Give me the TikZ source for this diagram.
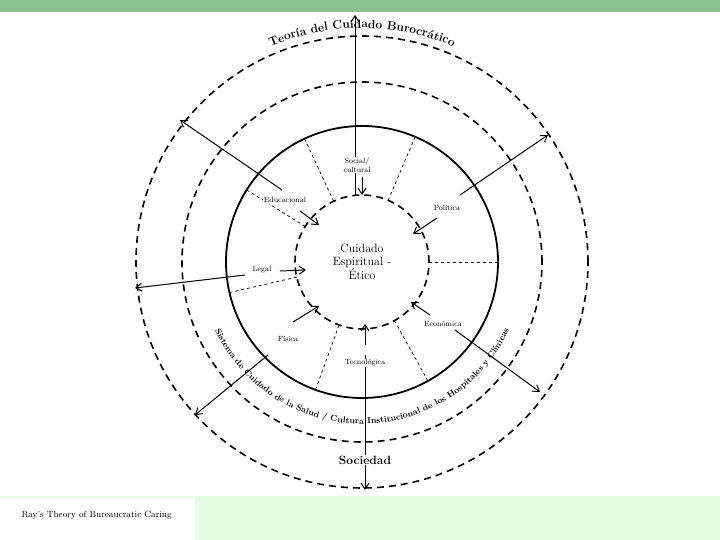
\documentclass[tikz,border=0pt]{standalone}
\usetikzlibrary{decorations.text,arrows.meta,calc}
\begin{document}
\begin{tikzpicture}[x=1pt,y=1pt,
  lbl/.style={font=\fontsize{7.5}{8.5}\selectfont,inner sep=1pt,fill=white},
  ray/.style={line width=1pt,-{Straight Barb[length=6pt,width=8pt]}},
  spoke/.style={dashed,line width=0.7pt},
  dcirc/.style={line width=1.6pt,dash pattern=on 7pt off 5pt}]
\useasboundingbox (0,0) rectangle (720,540);
\fill[white] (0,0) rectangle (720,540);
\fill[green!45!black!45!white] (0,528) rectangle (720,540);
\fill[green!10!white] (0,0) rectangle (720,44);
\fill[white] (0,0) rectangle (195,42);
\node[font=\fontsize{9}{10}\selectfont,anchor=west] (foot) at (18,25) {Ray's Theory of Bureaucratic Caring};
\coordinate (c) at (362,278);
\draw[dcirc] (c) circle (67);
\draw[line width=1.8pt] (c) circle (136);
\draw[dcirc] (c) circle (180);
\draw[dcirc] (c) circle (226);
\foreach \a in {115,67,148,0,193,250,299}
  \draw[spoke] ($(c)+(\a:67)$) -- ($(c)+(\a:136)$);
% outward rays
\coordinate (o1) at (355,525); \coordinate (s1) at (355,345);
\coordinate (o2) at (180,420); \coordinate (s2) at (282,350);
\coordinate (o3) at (548,405); \coordinate (s3) at (460,345);
\coordinate (o4) at (135,252); \coordinate (s4) at (245,265);
\coordinate (o5) at (195,125); \coordinate (s5) at (268,185);
\coordinate (o6) at (540,148); \coordinate (s6) at (455,210);
\coordinate (o7) at (365,50); \coordinate (s7) at (365,185);
\foreach \i in {1,...,7} \draw[ray] (s\i) -- (o\i);
% inward arrows
\draw[ray] (362,363) -- (362,345);
\draw[ray] (300,329) -- (319,315);
\draw[ray] (437,322) -- (413,306);
\draw[ray] (280,269) -- (306,270);
\draw[ray] (293,218) -- (319,234);
\draw[ray] (430,225) -- (411,238);
\draw[ray] (365,195) -- (365,216);
\node[align=center,font=\fontsize{12}{13}\selectfont] (core) at (c) {Cuidado\\Espiritual -\\Ético};
\node[lbl,align=center] (soc) at (357,375) {Social/\\cultural};
\node[lbl] (edu) at (285,340) {Educacional};
\node[lbl] (pol) at (447,332) {Política};
\node[lbl] (leg) at (262,270) {Legal};
\node[lbl] (fis) at (288,201) {Física};
\node[lbl] (eco) at (443,216) {Económica};
\node[lbl] (tec) at (365,177) {Tecnológica};
\node[font=\bfseries\fontsize{12}{13}\selectfont,fill=white,inner sep=1pt] (soci) at (365,80) {Sociedad};
\path[decorate,decoration={text along path,text align=center,
  text={|\bfseries\fontsize{12}{13}\selectfont|Teoría del Cuidado Burocrático}}]
  ($(c)+(118:234)$) arc (118:62:234);
\path[decorate,decoration={text along path,text align=center,
  text={|\bfseries\fontsize{8.5}{10}\selectfont|Sistema de Cuidado de la Salud / Cultura Institucional de los Hospitales y Clínicas}}]
  ($(c)+(194:162)$) arc (194:346:162);
\end{tikzpicture}
\end{document}
